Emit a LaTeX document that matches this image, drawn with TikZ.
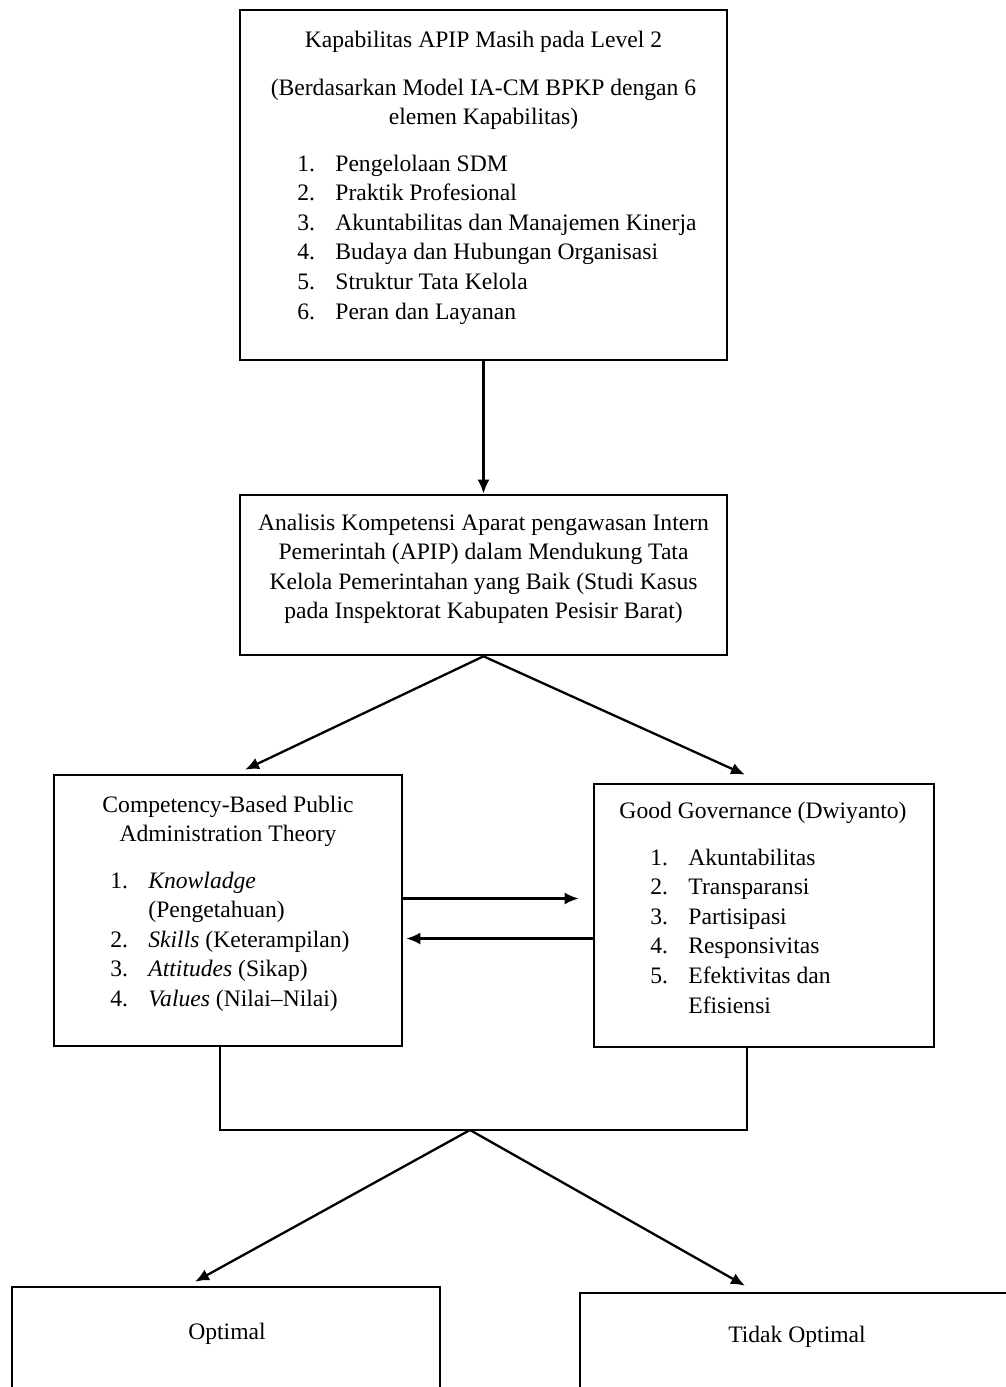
\documentclass[tikz,border=0pt]{standalone}
\usepackage{fontspec}
\setmainfont{Liberation Serif}
\usetikzlibrary{arrows.meta, positioning, calc}

\tikzset{
  box/.style={draw, line width=1.3pt, inner sep=0pt},
  txt/.style={anchor=base, inner sep=0pt, font=\fontsize{11.8}{14.8}\selectfont},
  line/.style={line width=1.15pt},
  link/.style={line, -{Latex[length=7pt,width=6pt]}},
}
\newcommand{\numlist}[1]{\begin{tabular}[t]{@{}p{19pt}@{}l@{}}#1\end{tabular}}
\newcommand{\midlines}[1]{\begin{tabular}[t]{@{}c@{}}#1\end{tabular}}

\begin{document}
\begin{tikzpicture}[x=0.5pt, y=-0.5pt]
\clip (0,0) rectangle (1006,1387);
\fill[white] (0,0) rectangle (1006,1387);

% kapabilitas
\node[box, minimum width=243.5pt, minimum height=175pt] (kap) at (483.5,185) {};
\node[txt] (kaptitle) at (483.5,47) {Kapabilitas APIP Masih pada Level 2};
\node[txt] (kapsub) at (483.5,95) {\midlines{(Berdasarkan Model IA-CM BPKP dengan 6\\ elemen Kapabilitas)}};
\node[txt, anchor=base west] (kaplist) at (297,171) {\numlist{%
  1. & Pengelolaan SDM\\
  2. & Praktik Profesional\\
  3. & Akuntabilitas dan Manajemen Kinerja\\
  4. & Budaya dan Hubungan Organisasi\\
  5. & Struktur Tata Kelola\\
  6. & Peran dan Layanan}};

% analisis
\node[box, minimum width=243.5pt, minimum height=80pt] (ana) at (483.5,575) {};
\node[txt] (anatext) at (483.5,530) {\midlines{%
  Analisis Kompetensi Aparat pengawasan Intern\\
  Pemerintah (APIP) dalam Mendukung Tata\\
  Kelola Pemerintahan yang Baik (Studi Kasus\\
  pada Inspektorat Kabupaten Pesisir Barat)}};

% competency
\node[box, minimum width=174pt, minimum height=135.5pt] (cbt) at (228,910.5) {};
\node[txt] (cbttitle) at (228,812) {\midlines{Competency-Based Public\\ Administration Theory}};
\node[txt, anchor=base west] (cbtlist) at (110,888) {\numlist{%
  1. & \textit{Knowladge}\\
     & (Pengetahuan)\\
  2. & \textit{Skills} (Keterampilan)\\
  3. & \textit{Attitudes} (Sikap)\\
  4. & \textit{Values} (Nilai--Nilai)}};

% good governance
\node[box, minimum width=170pt, minimum height=131.5pt] (gg) at (764,915.5) {};
\node[txt] (ggtitle) at (763,818) {Good Governance (Dwiyanto)};
\node[txt, anchor=base west] (gglist) at (650,865) {\numlist{%
  1. & Akuntabilitas\\
  2. & Transparansi\\
  3. & Partisipasi\\
  4. & Responsivitas\\
  5. & Efektivitas dan\\
     & Efisiensi}};

% hasil
\node[box, minimum width=214pt, minimum height=125pt] (opt) at (226,1412) {};
\node[txt] (opttext) at (227,1339) {Optimal};
\node[box, minimum width=218pt, minimum height=125pt] (tdk) at (798,1418) {};
\node[txt] (tdktext) at (797,1342) {Tidak Optimal};

% connectors
\draw[link] (kap) -- (ana);
\draw[link] (ana.south) -- ([xshift=8.5pt, yshift=2pt]cbt.north);
\draw[link] (ana.south) -- ([xshift=-9.5pt, yshift=4pt]gg.north);

\coordinate (r1) at ($(cbt.east)+(0,-12)$);
\coordinate (r2) at (r1 -| gg.west);
\coordinate (l1) at ($(cbt.east)+(0,28)$);
\coordinate (l2) at (l1 -| gg.west);
\draw[link, shorten >=7pt] (r1) -- (r2);
\draw[link, shorten >=1.5pt] (l2) -- (l1);

\coordinate (join) at (470,1130);
\draw[line] ([xshift=-4pt]cbt.south) |- (join) -| ([xshift=-8.5pt]gg.south);
\draw[link] (join) -- ([xshift=-15.5pt, yshift=2pt]opt.north);
\draw[link] (join) -- ([xshift=-26.5pt, yshift=3pt]tdk.north);
\end{tikzpicture}
\end{document}
